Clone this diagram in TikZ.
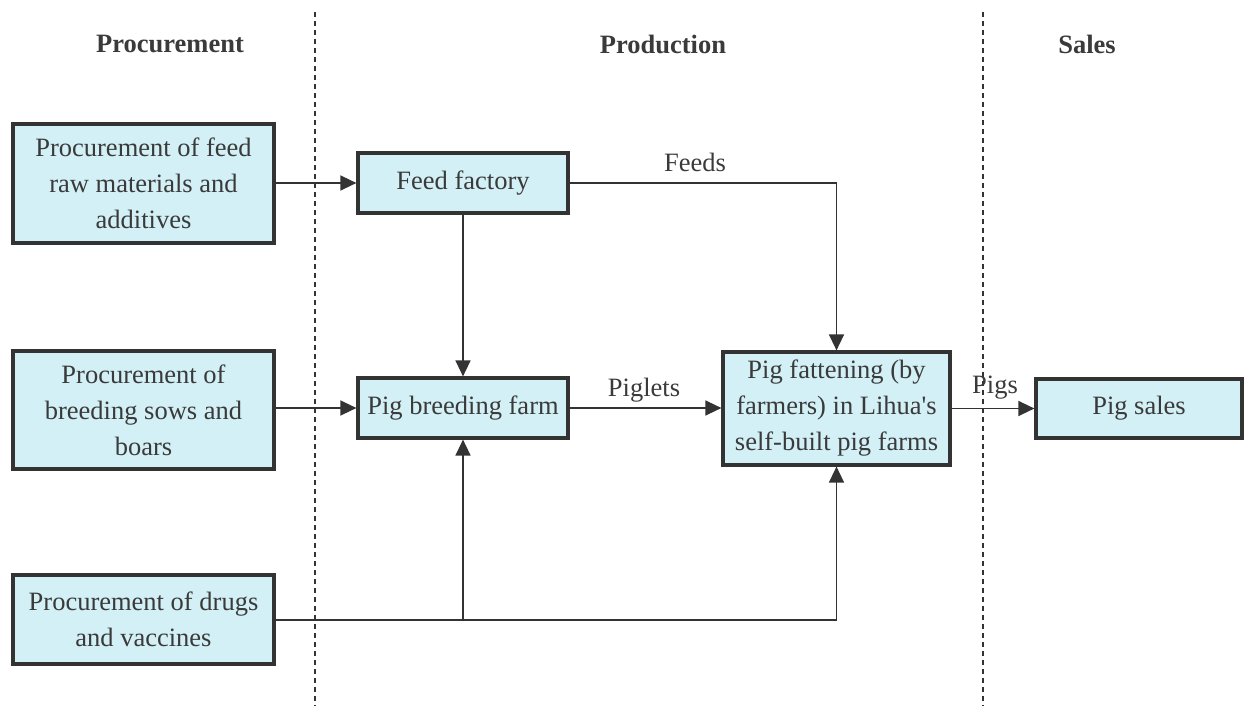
\documentclass[tikz,border=0pt]{standalone}
\usepackage{fontspec}
\setmainfont{Liberation Serif}
\usetikzlibrary{arrows.meta}
\definecolor{boxfill}{HTML}{D2F0F5}
\definecolor{ink}{HTML}{3A3A3A}
\definecolor{edge}{HTML}{333333}
\begin{document}
\begin{tikzpicture}[x=1pt,y=-1pt,
  stagebox/.style={draw=edge,line width=3.2pt,fill=boxfill,text=ink,
    align=center,inner sep=0pt,font=\fontsize{26.5}{36}\selectfont},
  header/.style={text=ink,font=\fontsize{26.5}{30}\selectfont\bfseries},
  flow/.style={draw=edge,line width=1.4pt,-{Triangle[length=16pt,width=15pt]}},
  plain/.style={draw=edge,line width=1.4pt},
  flowlabel/.style={text=ink,font=\fontsize{26.5}{30}\selectfont},
  divider/.style={draw=edge,line width=1.2pt,dash pattern=on 5pt off 4pt}]
\useasboundingbox (0,0) rectangle (1244,708);

% column dividers
\draw[divider] (315,12) -- (315,706);
\draw[divider] (983,12) -- (983,706);

% column headers
\node[header] (hproc) at (170,44) {Procurement};
\node[header] (hprod) at (663,44) {Production};
\node[header] (hsale) at (1087,44) {Sales};

% procurement boxes
\node[stagebox,minimum width=261pt,minimum height=119pt] (feedraw) at (143.5,183.5)
  {Procurement of feed\\raw materials and\\additives};
\node[stagebox,minimum width=261pt,minimum height=118pt] (sows) at (143.5,410)
  {Procurement of\\breeding sows and\\boars};
\node[stagebox,minimum width=261pt,minimum height=89pt] (drugs) at (143.5,619.5)
  {Procurement of drugs\\and vaccines};

% production boxes
\node[stagebox,minimum width=210pt,minimum height=60pt] (factory) at (463,183)
  {Feed factory};
\node[stagebox,minimum width=210pt,minimum height=60pt] (breed) at (463,408)
  {Pig breeding farm};
\node[stagebox,minimum width=227pt,minimum height=113pt] (fatten) at (836.5,408.5)
  {Pig fattening (by\\farmers) in Lihua\textquotesingle s\\self-built pig farms};

% sales box
\node[stagebox,minimum width=206pt,minimum height=59pt] (sales) at (1139,408.5)
  {Pig sales};

% junctions on the drug supply line
\coordinate (jbreed) at (breed.south |- 0,620);
\coordinate (jfat) at (fatten.south |- 0,620);
\coordinate (jfeed) at (fatten.north |- factory.east);

% connectors
\draw[flow] (feedraw.east |- factory.west) -- (factory.west);
\draw[flow] (sows.east |- breed.west) -- (breed.west);
\draw[flow] (factory.south) -- (breed.north);
\draw[plain] (factory.east) -- (jfeed);
\draw[flow] (jfeed) -- (fatten.north);
\node[flowlabel] (lfeeds) at (695,162) {Feeds};
\draw[flow] (breed.east) -- (breed.east -| fatten.west);
\node[flowlabel] (lpiglets) at (644,390) {Piglets};
\draw[flow] (fatten.east |- sales.west) -- (sales.west);
\node[flowlabel] (lpigs) at (995,388) {Pigs};
\draw[plain] (drugs.east |- jbreed) -- (jbreed) -- (jfat);
\draw[flow] (jbreed) -- (breed.south);
\draw[flow] (jfat) -- (fatten.south);
\end{tikzpicture}
\end{document}
